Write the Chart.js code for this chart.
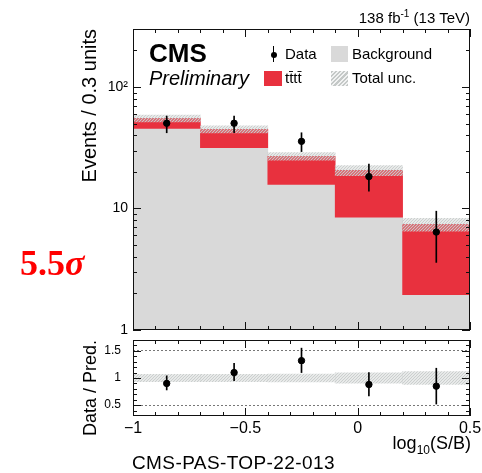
<!DOCTYPE html>
<html lang="en">
<head>
  <meta charset="UTF-8" />
  <title>tttt: events vs log10(S/B)</title>
  <style>
    body {
      margin: 0;
      background: #fff;
      font-family: 'Liberation Sans', Arial, sans-serif;
      color: #000;
    }
    #page {
      position: relative;
      width: 482px;
      height: 473px;
      overflow: hidden;
    }
    canvas {
      position: absolute;
      left: 0;
    }
    #mainChart { top: 0; }
    #ratioChart { top: 330px; }
    .txt {
      position: absolute;
      white-space: nowrap;
    }
    .lumi { right: 12px; top: 9px; font-size: 15px; line-height: 18px; }
    .lumi sup { font-size: 10px; line-height: 0; vertical-align: 6px; }
    .cms { left: 149px; top: 38px; font-size: 26px; line-height: 30px; font-weight: bold; }
    .prelim { left: 149px; top: 66px; font-size: 20px; line-height: 24px; font-style: italic; }
    .leg { font-size: 15px; line-height: 18px; }
    .swatch { position: absolute; }
    .sw-bkg { left: 331px; top: 46px; width: 17px; height: 16px; background: #d9d9d9; }
    .sw-sig { left: 264px; top: 71px; width: 18px; height: 15px; background: #e8313e; }
    .sw-unc {
      left: 331px; top: 71px; width: 17px; height: 15px;
      background: repeating-linear-gradient(135deg, #c4c8c7 0 1.5px, #f1f2f2 1.5px 3px);
    }
    .dot-line { left: 273px; top: 46px; width: 1px; height: 16px; background: #000; }
    .dot { left: 270.5px; top: 51.5px; width: 6px; height: 6px; border-radius: 50%; background: #000; }
    .signif {
      left: 20px; top: 243px;
      font-family: 'Liberation Serif', 'Times New Roman', serif;
      font-weight: bold; font-size: 36px; line-height: 40px; color: #f00;
    }
    .xtitle { right: 11px; top: 433px; font-size: 18px; line-height: 20px; }
    .xtitle sub { font-size: 12px; line-height: 0; vertical-align: -5px; }
    .pas { left: 132px; top: 452px; font-size: 19px; line-height: 22px; letter-spacing: 0.4px; }
  </style>
</head>
<body>
<div id="page">
  <canvas id="mainChart" width="482" height="340"></canvas>
  <canvas id="ratioChart" width="482" height="143"></canvas>

  <div class="txt lumi">138 fb<sup>-1</sup> (13 TeV)</div>
  <div class="txt cms">CMS</div>
  <div class="txt prelim">Preliminary</div>

  <div class="swatch dot-line"></div>
  <div class="swatch dot"></div>
  <div class="txt leg" style="left:285px; top:45px;">Data</div>
  <div class="swatch sw-bkg"></div>
  <div class="txt leg" style="left:352px; top:45px;">Background</div>
  <div class="swatch sw-sig"></div>
  <div class="txt leg" style="left:285px; top:69px;">tt̄tt̄</div>
  <div class="swatch sw-unc"></div>
  <div class="txt leg" style="left:352px; top:69px;">Total unc.</div>

  <div class="txt signif">5.5<i>σ</i></div>
  <div class="txt xtitle">log<sub>10</sub>(S/B)</div>
  <div class="txt pas">CMS-PAS-TOP-22-013</div>
</div>

<script src="https://cdn.jsdelivr.net/npm/chart.js"></script>
<script>
  // bins in log10(S/B), width 0.3
  const binCenters = [-0.85, -0.55, -0.25, 0.05, 0.35];

  // predicted yields per bin
  const background = [45.7, 31.7, 15.8, 8.5, 1.95];
  const totalPred = [55.2, 44.9, 26.9, 20.6, 7.4];      // background + tttt
  const relUnc = [0.066, 0.066, 0.07, 0.095, 0.12];     // total relative uncertainty

  // observed
  const dataCounts = [50.3, 50.3, 35.7, 18.3, 6.4];
  const dataLow = [42.0, 42.0, 29.4, 13.9, 3.6];
  const dataHigh = [57.6, 57.6, 42.0, 23.2, 9.5];

  // data / prediction
  const ratio = [0.90, 1.10, 1.32, 0.88, 0.85];
  const ratioLow = [0.78, 0.95, 1.10, 0.67, 0.52];
  const ratioHigh = [1.04, 1.27, 1.55, 1.10, 1.18];

  // axis ticks
  const xTicks = [-1, -0.5, 0, 0.5];
  const xTickLabels = ['−1', '−0.5', '0', '0.5'];
  const xMinorTicks = [-0.9, -0.8, -0.7, -0.6, -0.4, -0.3, -0.2, -0.1, 0.1, 0.2, 0.3, 0.4];
  const mainYTicks = [1, 10, 100];
  const mainYTickLabels = ['1', '10', '10²'];
  const mainYMinorTicks = [2, 3, 4, 5, 6, 7, 8, 9, 20, 30, 40, 50, 60, 70, 80, 90, 200, 300];
  const ratioYTicks = [0.5, 1, 1.5];
  const ratioYTickLabels = ['0.5', '1', '1.5'];
  const ratioYMinorTicks = [0.4, 0.6, 0.7, 0.8, 0.9, 1.1, 1.2, 1.3, 1.4, 1.6];

  Chart.defaults.font.family = "'Liberation Sans', Arial, sans-serif";
  Chart.defaults.color = '#000';

  // light grey diagonal hatching on a transparent ground
  function makeHatch(line) {
    const c = document.createElement('canvas');
    c.width = 3; c.height = 3;
    const g = c.getContext('2d');
    g.strokeStyle = line;
    g.lineWidth = 1.3;
    g.beginPath();
    g.moveTo(0, 3); g.lineTo(3, 0);
    g.moveTo(-1, 1); g.lineTo(1, -1);
    g.moveTo(2, 4); g.lineTo(4, 2);
    g.stroke();
    return g.createPattern(c, 'repeat');
  }
  const hatch = makeHatch('rgba(200,204,203,0.95)');

  // keep the plot area exactly where the layout padding puts it
  function fixedBox(size) {
    return s => {
      if (s.isHorizontal()) s.height = size; else s.width = size;
      s.paddingTop = 0; s.paddingBottom = 0;
      s.paddingLeft = 0; s.paddingRight = 0;
    };
  }

  // frame around the plot area with inward ticks on all four sides
  const rootFrame = {
    id: 'rootFrame',
    afterDatasetsDraw(chart, args, opts) {
      const { ctx, chartArea: a, scales: { x, y } } = chart;
      ctx.save();
      ctx.strokeStyle = '#111';
      ctx.lineWidth = 1;
      ctx.beginPath();
      const xt = (v, len) => {
        const px = Math.round(x.getPixelForValue(v)) + 0.5;
        ctx.moveTo(px, a.bottom); ctx.lineTo(px, a.bottom - len);
        ctx.moveTo(px, a.top); ctx.lineTo(px, a.top + len);
      };
      const yt = (v, len) => {
        const py = Math.round(y.getPixelForValue(v)) + 0.5;
        ctx.moveTo(a.left, py); ctx.lineTo(a.left + len, py);
        ctx.moveTo(a.right, py); ctx.lineTo(a.right - len, py);
      };
      xTicks.forEach(v => xt(v, 8));
      xMinorTicks.forEach(v => xt(v, 4));
      opts.yMajor.forEach(v => yt(v, 8));
      opts.yMinor.forEach(v => yt(v, 4));
      ctx.stroke();
      ctx.strokeRect(a.left + 0.5, a.top + 0.5, a.right - a.left - 1, a.bottom - a.top - 1);
      ctx.restore();
    }
  };

  const barDefaults = { grouped: false, categoryPercentage: 1, barPercentage: 1, borderWidth: 0 };

  new Chart(document.getElementById('mainChart'), {
    type: 'bar',
    data: {
      datasets: [
        {
          label: 'Data',
          type: 'scatter',
          data: binCenters.map((x, i) => ({ x, y: dataCounts[i] })),
          backgroundColor: '#000',
          borderColor: '#000',
          pointRadius: 3.2,
          order: 0
        },
        {
          label: 'Data error',
          data: binCenters.map((x, i) => ({ x, y: [dataLow[i], dataHigh[i]] })),
          backgroundColor: '#000',
          barThickness: 1,
          order: 1
        },
        {
          label: 'Total unc.',
          data: binCenters.map((x, i) => ({ x, y: [totalPred[i] * (1 - relUnc[i]), totalPred[i] * (1 + relUnc[i])] })),
          backgroundColor: hatch,
          order: 2
        },
        {
          label: 'tttt',
          data: binCenters.map((x, i) => ({ x, y: [background[i], totalPred[i]] })),
          backgroundColor: '#e8313e',
          order: 3
        },
        {
          label: 'Background',
          data: binCenters.map((x, i) => ({ x, y: [1, background[i]] })),
          backgroundColor: '#d9d9d9',
          order: 4
        }
      ]
    },
    options: {
      responsive: false,
      animation: false,
      layout: { padding: { top: 29, right: 12, bottom: 10, left: 0 } },
      datasets: { bar: barDefaults },
      plugins: {
        legend: { display: false },
        tooltip: { enabled: false },
        rootFrame: { yMajor: mainYTicks, yMinor: mainYMinorTicks }
      },
      scales: {
        x: {
          type: 'linear', min: -1, max: 0.5, offset: false, display: false,
          afterBuildTicks: s => { s.ticks = xTicks.map(v => ({ value: v })); }
        },
        y: {
          type: 'logarithmic', min: 1, max: 300,
          afterBuildTicks: s => { s.ticks = mainYTicks.map(v => ({ value: v })); },
          afterFit: fixedBox(133),
          grid: { display: false, drawTicks: false },
          border: { display: false },
          ticks: {
            autoSkip: false,
            padding: 5,
            font: { size: 14 },
            callback: v => mainYTickLabels[mainYTicks.indexOf(v)] ?? ''
          },
          title: {
            display: true,
            text: 'Events / 0.3 units',
            align: 'end',
            font: { size: 20 },
            padding: { top: 78, bottom: 0 }
          }
        }
      }
    },
    plugins: [rootFrame]
  });

  new Chart(document.getElementById('ratioChart'), {
    type: 'bar',
    data: {
      datasets: [
        {
          label: 'Data / Pred.',
          type: 'scatter',
          data: binCenters.map((x, i) => ({ x, y: ratio[i] })),
          backgroundColor: '#000',
          borderColor: '#000',
          pointRadius: 3.2,
          order: 0
        },
        {
          label: 'Ratio error',
          data: binCenters.map((x, i) => ({ x, y: [ratioLow[i], ratioHigh[i]] })),
          backgroundColor: '#000',
          barThickness: 1,
          order: 1
        },
        {
          label: 'Total unc.',
          data: binCenters.map((x, i) => ({ x, y: [1 - relUnc[i], 1 + relUnc[i]] })),
          backgroundColor: hatch,
          order: 2
        }
      ]
    },
    options: {
      responsive: false,
      animation: false,
      layout: { padding: { top: 10, right: 12, bottom: 0, left: 0 } },
      datasets: { bar: barDefaults },
      plugins: {
        legend: { display: false },
        tooltip: { enabled: false },
        rootFrame: { yMajor: ratioYTicks, yMinor: ratioYMinorTicks }
      },
      scales: {
        x: {
          type: 'linear', min: -1, max: 0.5, offset: false,
          afterBuildTicks: s => { s.ticks = xTicks.map(v => ({ value: v })); },
          afterFit: fixedBox(57),
          grid: { display: false, drawTicks: false },
          border: { display: false },
          ticks: {
            autoSkip: false,
            maxRotation: 0,
            padding: 3,
            font: { size: 16 },
            callback: v => xTickLabels[xTicks.indexOf(v)] ?? ''
          }
        },
        y: {
          type: 'linear', min: 0.3, max: 1.7,
          afterBuildTicks: s => { s.ticks = ratioYTicks.map(v => ({ value: v })); },
          afterFit: fixedBox(133),
          grid: {
            drawTicks: false,
            color: c => (c.tick && c.tick.value === 1 ? 'rgba(0,0,0,0)' : '#777'),
            lineWidth: 1
          },
          border: { display: false, dash: [2, 2] },
          ticks: {
            autoSkip: false,
            padding: 12,
            font: { size: 12 },
            callback: v => ratioYTickLabels[ratioYTicks.indexOf(v)] ?? ''
          },
          title: {
            display: true,
            text: 'Data / Pred.',
            align: 'end',
            font: { size: 18 },
            padding: { top: 80, bottom: 0 }
          }
        }
      }
    },
    plugins: [rootFrame]
  });
</script>
</body>
</html>
